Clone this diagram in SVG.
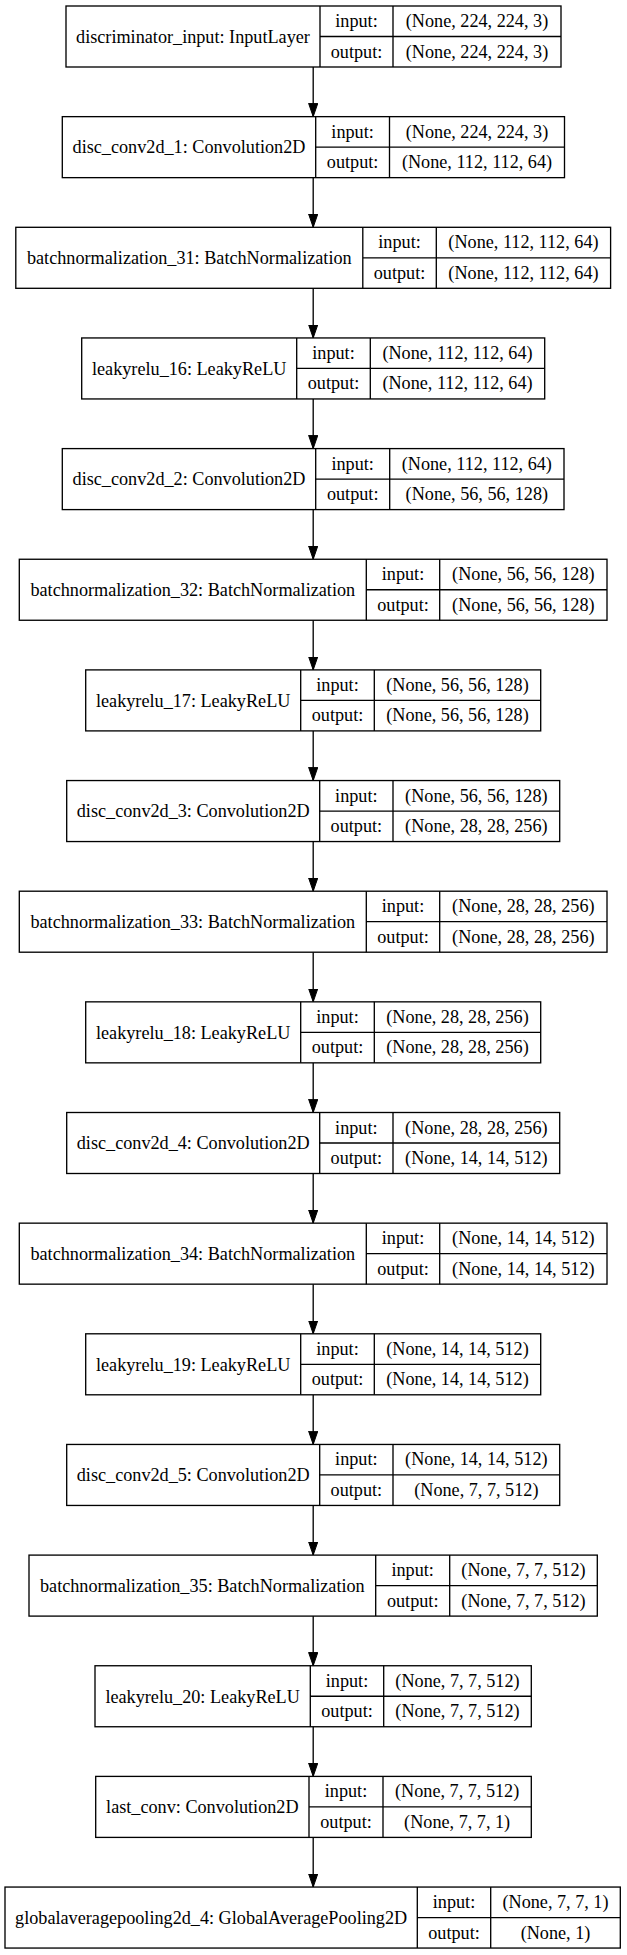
<svg xmlns="http://www.w3.org/2000/svg" width="627" height="1955" viewBox="0 0 627 1955">
<defs>
<style>
.bx{fill:#fff;stroke:#000;stroke-width:1.33}
.ln{fill:none;stroke:#000;stroke-width:1.33}
.edge{fill:none;stroke:#000;stroke-width:1.33}
text{font-family:"Liberation Serif","Times New Roman",serif;font-size:18.2px;text-anchor:middle;fill:#000}
</style>
<marker id="ah" markerUnits="userSpaceOnUse" markerWidth="14" markerHeight="10" refX="13.3" refY="4.6" orient="auto">
<path d="M0,0 L13.3,4.6 L0,9.2 z" fill="#000" stroke="#000" stroke-width="1"/>
</marker>
</defs>
<rect x="0" y="0" width="627" height="1955" fill="#fff"/>
<g id="connectors">
<path class="edge" marker-end="url(#ah)" d="M313.2,67 V116.65"/>
<path class="edge" marker-end="url(#ah)" d="M313.2,177.65 V227.3"/>
<path class="edge" marker-end="url(#ah)" d="M313.2,288.3 V337.95"/>
<path class="edge" marker-end="url(#ah)" d="M313.2,398.95 V448.6"/>
<path class="edge" marker-end="url(#ah)" d="M313.2,509.6 V559.25"/>
<path class="edge" marker-end="url(#ah)" d="M313.2,620.25 V669.9"/>
<path class="edge" marker-end="url(#ah)" d="M313.2,730.9 V780.55"/>
<path class="edge" marker-end="url(#ah)" d="M313.2,841.55 V891.2"/>
<path class="edge" marker-end="url(#ah)" d="M313.2,952.2 V1001.85"/>
<path class="edge" marker-end="url(#ah)" d="M313.2,1062.85 V1112.5"/>
<path class="edge" marker-end="url(#ah)" d="M313.2,1173.5 V1223.15"/>
<path class="edge" marker-end="url(#ah)" d="M313.2,1284.15 V1333.8"/>
<path class="edge" marker-end="url(#ah)" d="M313.2,1394.8 V1444.45"/>
<path class="edge" marker-end="url(#ah)" d="M313.2,1505.45 V1555.1"/>
<path class="edge" marker-end="url(#ah)" d="M313.2,1616.1 V1665.75"/>
<path class="edge" marker-end="url(#ah)" d="M313.2,1726.75 V1776.4"/>
<path class="edge" marker-end="url(#ah)" d="M313.2,1837.4 V1887.05"/>
</g>

<g id="n1" transform="translate(0,6)">
<rect class="bx" x="66" y="0" width="495" height="61"/>
<path class="ln" d="M320,0 V61 M393,0 V61 M320,30.5 H561"/>
<text x="193" y="36.8">discriminator_input: InputLayer</text>
<text x="356.5" y="21">input:</text><text x="356.5" y="51.5">output:</text>
<text x="477" y="21">(None, 224, 224, 3)</text><text x="477" y="51.5">(None, 224, 224, 3)</text>
</g>

<g id="n2" transform="translate(0,116.65)">
<rect class="bx" x="62.3" y="0" width="502.2" height="61"/>
<path class="ln" d="M315.7,0 V61 M389.5,0 V61 M315.7,30.5 H564.5"/>
<text x="189" y="36.8">disc_conv2d_1: Convolution2D</text>
<text x="352.6" y="21">input:</text><text x="352.6" y="51.5">output:</text>
<text x="477" y="21">(None, 224, 224, 3)</text><text x="477" y="51.5">(None, 112, 112, 64)</text>
</g>

<g id="n3" transform="translate(0,227.3)">
<rect class="bx" x="15.8" y="0" width="594.8" height="61"/>
<path class="ln" d="M362.8,0 V61 M436.3,0 V61 M362.8,30.5 H610.6"/>
<text x="189.3" y="36.8">batchnormalization_31: BatchNormalization</text>
<text x="399.55" y="21">input:</text><text x="399.55" y="51.5">output:</text>
<text x="523.45" y="21">(None, 112, 112, 64)</text><text x="523.45" y="51.5">(None, 112, 112, 64)</text>
</g>

<g id="n4" transform="translate(0,337.95)">
<rect class="bx" x="81.7" y="0" width="463" height="61"/>
<path class="ln" d="M296.7,0 V61 M370.3,0 V61 M296.7,30.5 H544.7"/>
<text x="189.2" y="36.8">leakyrelu_16: LeakyReLU</text>
<text x="333.5" y="21">input:</text><text x="333.5" y="51.5">output:</text>
<text x="457.5" y="21">(None, 112, 112, 64)</text><text x="457.5" y="51.5">(None, 112, 112, 64)</text>
</g>

<g id="n5" transform="translate(0,448.6)">
<rect class="bx" x="62.3" y="0" width="501.7" height="61"/>
<path class="ln" d="M315.7,0 V61 M389.7,0 V61 M315.7,30.5 H564"/>
<text x="189" y="36.8">disc_conv2d_2: Convolution2D</text>
<text x="352.7" y="21">input:</text><text x="352.7" y="51.5">output:</text>
<text x="476.85" y="21">(None, 112, 112, 64)</text><text x="476.85" y="51.5">(None, 56, 56, 128)</text>
</g>

<g id="n6" transform="translate(0,559.25)">
<rect class="bx" x="19.3" y="0" width="587.7" height="61"/>
<path class="ln" d="M366.3,0 V61 M439.7,0 V61 M366.3,30.5 H607"/>
<text x="192.8" y="36.8">batchnormalization_32: BatchNormalization</text>
<text x="403" y="21">input:</text><text x="403" y="51.5">output:</text>
<text x="523.35" y="21">(None, 56, 56, 128)</text><text x="523.35" y="51.5">(None, 56, 56, 128)</text>
</g>

<g id="n7" transform="translate(0,669.9)">
<rect class="bx" x="85.7" y="0" width="455" height="61"/>
<path class="ln" d="M300.7,0 V61 M374.3,0 V61 M300.7,30.5 H540.7"/>
<text x="193.2" y="36.8">leakyrelu_17: LeakyReLU</text>
<text x="337.5" y="21">input:</text><text x="337.5" y="51.5">output:</text>
<text x="457.5" y="21">(None, 56, 56, 128)</text><text x="457.5" y="51.5">(None, 56, 56, 128)</text>
</g>

<g id="n8" transform="translate(0,780.55)">
<rect class="bx" x="66.7" y="0" width="493" height="61"/>
<path class="ln" d="M319.7,0 V61 M393,0 V61 M319.7,30.5 H559.7"/>
<text x="193.2" y="36.8">disc_conv2d_3: Convolution2D</text>
<text x="356.35" y="21">input:</text><text x="356.35" y="51.5">output:</text>
<text x="476.35" y="21">(None, 56, 56, 128)</text><text x="476.35" y="51.5">(None, 28, 28, 256)</text>
</g>

<g id="n9" transform="translate(0,891.2)">
<rect class="bx" x="19.3" y="0" width="587.7" height="61"/>
<path class="ln" d="M366.3,0 V61 M439.7,0 V61 M366.3,30.5 H607"/>
<text x="192.8" y="36.8">batchnormalization_33: BatchNormalization</text>
<text x="403" y="21">input:</text><text x="403" y="51.5">output:</text>
<text x="523.35" y="21">(None, 28, 28, 256)</text><text x="523.35" y="51.5">(None, 28, 28, 256)</text>
</g>

<g id="n10" transform="translate(0,1001.85)">
<rect class="bx" x="85.7" y="0" width="455" height="61"/>
<path class="ln" d="M300.7,0 V61 M374.3,0 V61 M300.7,30.5 H540.7"/>
<text x="193.2" y="36.8">leakyrelu_18: LeakyReLU</text>
<text x="337.5" y="21">input:</text><text x="337.5" y="51.5">output:</text>
<text x="457.5" y="21">(None, 28, 28, 256)</text><text x="457.5" y="51.5">(None, 28, 28, 256)</text>
</g>

<g id="n11" transform="translate(0,1112.5)">
<rect class="bx" x="66.7" y="0" width="493" height="61"/>
<path class="ln" d="M319.7,0 V61 M393,0 V61 M319.7,30.5 H559.7"/>
<text x="193.2" y="36.8">disc_conv2d_4: Convolution2D</text>
<text x="356.35" y="21">input:</text><text x="356.35" y="51.5">output:</text>
<text x="476.35" y="21">(None, 28, 28, 256)</text><text x="476.35" y="51.5">(None, 14, 14, 512)</text>
</g>

<g id="n12" transform="translate(0,1223.15)">
<rect class="bx" x="19.3" y="0" width="587.7" height="61"/>
<path class="ln" d="M366.3,0 V61 M439.7,0 V61 M366.3,30.5 H607"/>
<text x="192.8" y="36.8">batchnormalization_34: BatchNormalization</text>
<text x="403" y="21">input:</text><text x="403" y="51.5">output:</text>
<text x="523.35" y="21">(None, 14, 14, 512)</text><text x="523.35" y="51.5">(None, 14, 14, 512)</text>
</g>

<g id="n13" transform="translate(0,1333.8)">
<rect class="bx" x="85.7" y="0" width="455" height="61"/>
<path class="ln" d="M300.7,0 V61 M374.3,0 V61 M300.7,30.5 H540.7"/>
<text x="193.2" y="36.8">leakyrelu_19: LeakyReLU</text>
<text x="337.5" y="21">input:</text><text x="337.5" y="51.5">output:</text>
<text x="457.5" y="21">(None, 14, 14, 512)</text><text x="457.5" y="51.5">(None, 14, 14, 512)</text>
</g>

<g id="n14" transform="translate(0,1444.45)">
<rect class="bx" x="66.7" y="0" width="493" height="61"/>
<path class="ln" d="M319.7,0 V61 M393,0 V61 M319.7,30.5 H559.7"/>
<text x="193.2" y="36.8">disc_conv2d_5: Convolution2D</text>
<text x="356.35" y="21">input:</text><text x="356.35" y="51.5">output:</text>
<text x="476.35" y="21">(None, 14, 14, 512)</text><text x="476.35" y="51.5">(None, 7, 7, 512)</text>
</g>

<g id="n15" transform="translate(0,1555.1)">
<rect class="bx" x="29" y="0" width="568.3" height="61"/>
<path class="ln" d="M375.7,0 V61 M449.7,0 V61 M375.7,30.5 H597.3"/>
<text x="202.35" y="36.8">batchnormalization_35: BatchNormalization</text>
<text x="412.7" y="21">input:</text><text x="412.7" y="51.5">output:</text>
<text x="523.5" y="21">(None, 7, 7, 512)</text><text x="523.5" y="51.5">(None, 7, 7, 512)</text>
</g>

<g id="n16" transform="translate(0,1665.75)">
<rect class="bx" x="95" y="0" width="436.3" height="61"/>
<path class="ln" d="M310.3,0 V61 M383.7,0 V61 M310.3,30.5 H531.3"/>
<text x="202.65" y="36.8">leakyrelu_20: LeakyReLU</text>
<text x="347" y="21">input:</text><text x="347" y="51.5">output:</text>
<text x="457.5" y="21">(None, 7, 7, 512)</text><text x="457.5" y="51.5">(None, 7, 7, 512)</text>
</g>

<g id="n17" transform="translate(0,1776.4)">
<rect class="bx" x="95.7" y="0" width="435.6" height="61"/>
<path class="ln" d="M309,0 V61 M383,0 V61 M309,30.5 H531.3"/>
<text x="202.35" y="36.8">last_conv: Convolution2D</text>
<text x="346" y="21">input:</text><text x="346" y="51.5">output:</text>
<text x="457.15" y="21">(None, 7, 7, 512)</text><text x="457.15" y="51.5">(None, 7, 7, 1)</text>
</g>

<g id="n18" transform="translate(0,1887.05)">
<rect class="bx" x="5" y="0" width="615.3" height="61"/>
<path class="ln" d="M417.3,0 V61 M490.7,0 V61 M417.3,30.5 H620.3"/>
<text x="211.15" y="36.8">globalaveragepooling2d_4: GlobalAveragePooling2D</text>
<text x="454" y="21">input:</text><text x="454" y="51.5">output:</text>
<text x="555.5" y="21">(None, 7, 7, 1)</text><text x="555.5" y="51.5">(None, 1)</text>
</g>
</svg>
